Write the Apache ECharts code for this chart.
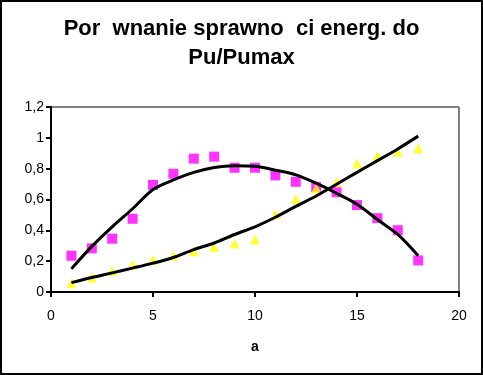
<!DOCTYPE html>
<html>
<head>
<meta charset="utf-8">
<script src="https://cdn.jsdelivr.net/npm/echarts@6/dist/echarts.min.js"></script>
<style>
html,body{margin:0;padding:0;background:#fff;}
#chart{width:483px;height:375px;}
</style>
</head>
<body>
<div id="chart"></div>
<script>
// Data
var xValues = [1,2,3,4,5,6,7,8,9,10,11,12,13,14,15,16,17,18];
var magentaPoints = [0.235,0.283,0.346,0.475,0.695,0.767,0.865,0.878,0.806,0.806,0.756,0.715,0.682,0.647,0.564,0.479,0.401,0.205];
var yellowPoints = [0.057,0.094,0.137,0.176,0.209,0.235,0.264,0.294,0.314,0.34,0.503,0.603,0.673,0.714,0.834,0.884,0.91,0.933];
var magentaTrend = [0.150,0.296,0.423,0.54,0.665,0.727,0.776,0.808,0.819,0.815,0.79,0.760,0.706,0.64,0.569,0.47,0.373,0.235];
var yellowTrend = [0.061,0.094,0.124,0.155,0.187,0.224,0.275,0.318,0.373,0.423,0.485,0.555,0.623,0.699,0.776,0.852,0.928,1.011];
var titleText = 'Por  wnanie sprawno  ci energ. do\nPu/Pumax';
var xAxisName = 'a';

function pairs(xs, ys){ return xs.map(function(x,i){ return [x, ys[i]]; }); }

var chart = echarts.init(document.getElementById('chart'), null, {renderer:'canvas'});
chart.setOption({
  animation:false,
  backgroundColor:'#fff',
  title:{
    text:titleText,
    left:'center',
    top:9,
    textStyle:{fontFamily:'Liberation Sans, Arial, sans-serif',fontWeight:'bold',fontSize:22,lineHeight:29,color:'#000'}
  },
  graphic:[{
    type:'rect',
    shape:{x:1,y:1,width:481,height:373},
    style:{fill:'none',stroke:'#000',lineWidth:2},
    silent:true
  },{
    type:'line',
    shape:{x1:51,y1:107,x2:459,y2:107},
    style:{stroke:'#808080',lineWidth:2},
    silent:true
  },{
    type:'line',
    shape:{x1:459,y1:107,x2:459,y2:292},
    style:{stroke:'#808080',lineWidth:2},
    silent:true
  }],
  grid:{left:51,right:24,top:107,bottom:83,containLabel:false},
  xAxis:{
    type:'value',min:0,max:20,interval:5,
    name:xAxisName,nameLocation:'middle',nameGap:48,
    nameTextStyle:{fontFamily:'Liberation Sans, Arial, sans-serif',fontWeight:'bold',fontSize:14,color:'#000'},
    axisLine:{show:true,onZero:false,lineStyle:{color:'#000',width:2}},
    axisTick:{show:true,length:5,lineStyle:{color:'#000',width:2}},
    axisLabel:{fontFamily:'Liberation Sans, Arial, sans-serif',fontSize:14,color:'#000',margin:17},
    splitLine:{show:false}
  },
  yAxis:{
    type:'value',min:0,max:1.2,interval:0.2,
    axisLine:{show:true,onZero:false,lineStyle:{color:'#000',width:2}},
    axisTick:{show:true,length:5,lineStyle:{color:'#000',width:2}},
    axisLabel:{fontFamily:'Liberation Sans, Arial, sans-serif',fontSize:14,color:'#000',margin:7,
      formatter:function(v){ return (Math.round(v*10)/10).toString().replace('.',','); }},
    splitLine:{show:false}
  },
  series:[{
    type:'scatter',
    data:pairs(xValues, magentaPoints),
    symbol:'rect',symbolSize:10,
    itemStyle:{color:'#FF00FF'},
    z:2
  },{
    type:'scatter',
    data:pairs(xValues, yellowPoints),
    symbol:'triangle',symbolSize:[10,10],
    itemStyle:{color:'#FFFF00'},
    z:2
  },{
    type:'line',
    data:pairs(xValues, magentaTrend),
    smooth:0.3,showSymbol:false,
    lineStyle:{color:'#000',width:3},
    z:3
  },{
    type:'line',
    data:pairs(xValues, yellowTrend),
    smooth:0.3,showSymbol:false,
    lineStyle:{color:'#000',width:3},
    z:3
  }]
});
</script>
</body>
</html>
